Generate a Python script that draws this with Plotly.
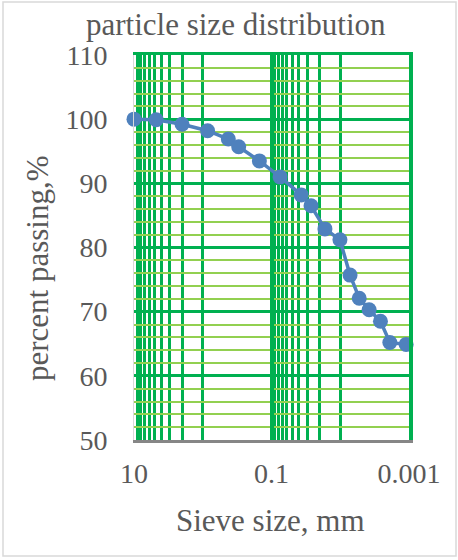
import plotly.graph_objects as go

# Data
sieve_mm = [10, 4.75, 2.0, 0.85, 0.425, 0.3, 0.15, 0.075, 0.037, 0.0266,
            0.0167, 0.0101, 0.0072, 0.0053, 0.0038, 0.0026, 0.0019, 0.0011]
passing_pct = [100.0, 99.9, 99.2, 98.2, 96.9, 95.7, 93.5, 91.0, 88.2, 86.5,
               82.9, 81.2, 75.7, 72.1, 70.3, 68.5, 65.2, 64.9]

x_major_ticks = [10, 0.1, 0.001]
x_major_labels = ["10", "0.1", "0.001"]
x_minor_ticks = [1, 2, 3, 4, 5, 6, 7, 8, 9,
                 0.01, 0.02, 0.03, 0.04, 0.05, 0.06, 0.07, 0.08, 0.09]

title_text = "particle size distribution"
x_title = "Sieve size, mm"
y_title = "percent passing,%"

W, H = 458, 560
L, R, T, B = 134, 49, 55, 120
PW, PH = W - L - R, H - T - B

def px(xp):
    return (xp - L) / PW

def py(yp):
    return (H - B - yp) / PH

FONT = "Liberation Serif"
TXT = "#595959"
DARK_GREEN = "#00B050"
LIGHT_GREEN = "#92D050"
BLUE = "#4F81BD"

fig = go.Figure()
# invisible helper trace so that the framing (top/right) axes get drawn
fig.add_trace(go.Scatter(
    x=sieve_mm, y=passing_pct, xaxis="x2", yaxis="y2", mode="markers",
    marker=dict(opacity=0), hoverinfo="skip", showlegend=False,
))
fig.add_trace(go.Scatter(
    x=sieve_mm, y=passing_pct, mode="lines+markers",
    line=dict(color=BLUE, width=3.5),
    marker=dict(color=BLUE, size=15),
    showlegend=False, cliponaxis=False,
))

fig.update_layout(
    width=W, height=H,
    margin=dict(l=L, r=R, t=T, b=B),
    paper_bgcolor="white", plot_bgcolor="white",
    font=dict(family=FONT, color=TXT),
    xaxis=dict(
        type="log", range=[1, -3],
        tickmode="array", tickvals=x_major_ticks, ticktext=x_major_labels,
        tickfont=dict(size=28, color=TXT, family=FONT),
        showgrid=True, gridcolor=DARK_GREEN, gridwidth=3.5,
        minor=dict(tickmode="array", tickvals=x_minor_ticks, showgrid=True,
                   gridcolor=DARK_GREEN, gridwidth=2.5, ticks=""),
        showline=True, linecolor="#868686", linewidth=3,
        ticks="outside", ticklen=6, tickcolor="rgba(0,0,0,0)",
        zeroline=False,
    ),
    xaxis2=dict(
        type="log", range=[1, -3], overlaying="x", side="top", anchor="y2",
        showline=True, linecolor=DARK_GREEN, linewidth=3,
        showgrid=False, showticklabels=False, ticks="", zeroline=False,
    ),
    yaxis=dict(
        range=[50, 110], dtick=10, tick0=50,
        tickfont=dict(size=28, color=TXT, family=FONT),
        showgrid=True, gridcolor=DARK_GREEN, gridwidth=3,
        minor=dict(dtick=2, showgrid=True, gridcolor=LIGHT_GREEN, gridwidth=2, ticks=""),
        showline=True, linecolor="#D9D9D9", linewidth=1,
        ticks="outside", ticklen=20, tickcolor="rgba(0,0,0,0)",
        zeroline=False,
    ),
    yaxis2=dict(
        range=[50, 110], overlaying="y", side="right", anchor="x2",
        showline=True, linecolor=DARK_GREEN, linewidth=4,
        showgrid=False, showticklabels=False, ticks="", zeroline=False,
    ),
    annotations=[
        dict(text=title_text, xref="paper", yref="paper", x=px(236), y=py(25),
             showarrow=False, font=dict(size=31, color=TXT, family=FONT),
             xanchor="center", yanchor="middle"),
        dict(text=x_title, xref="paper", yref="paper", x=px(270), y=py(520),
             showarrow=False, font=dict(size=31, color=TXT, family=FONT),
             xanchor="center", yanchor="middle"),
        dict(text=y_title, xref="paper", yref="paper", x=px(37), y=py(268),
             showarrow=False, textangle=-90, font=dict(size=31, color=TXT, family=FONT),
             xanchor="center", yanchor="middle"),
    ],
    shapes=[
        dict(type="rect", xref="paper", yref="paper",
             x0=px(3), x1=px(456), y0=py(556), y1=py(2),
             line=dict(color="#D9D9D9", width=1.5), fillcolor="rgba(0,0,0,0)",
             layer="below"),
    ],
)

fig.write_html("out.html")
